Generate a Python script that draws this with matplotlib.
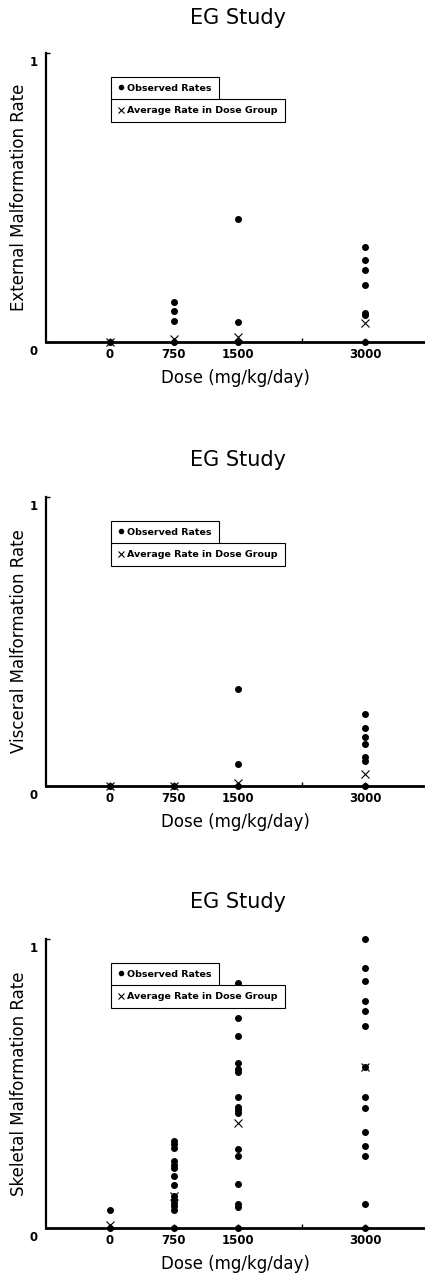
import matplotlib
matplotlib.use("Agg")
import matplotlib.pyplot as plt
import matplotlib.transforms as mtransforms
from matplotlib.lines import Line2D

plt.rcParams['font.family'] = ['DejaVu Sans']

dose_groups = [0, 750, 1500, 3000]
dose_ticks = [0, 750, 1500, 2250, 3000]
dose_tick_labels = ['0', '750', '1500', '', '3000']

# Observed rates per dose group
external_obs = {
    0: [0.0],
    750: [0.139, 0.108, 0.074, 0.0],
    1500: [0.426, 0.068, 0.0],
    3000: [0.330, 0.284, 0.249, 0.197, 0.099, 0.093, 0.0],
}
external_avg = [0.0, 0.009, 0.016, 0.067]

visceral_obs = {
    0: [0.0],
    750: [0.0],
    1500: [0.335, 0.077, 0.0],
    3000: [0.250, 0.202, 0.168, 0.144, 0.100, 0.087, 0.0],
}
visceral_avg = [0.0, 0.0, 0.012, 0.040]

skeletal_obs = {
    0: [0.063, 0.0],
    750: [0.300, 0.289, 0.277, 0.231, 0.219, 0.208, 0.179, 0.150, 0.110,
          0.098, 0.087, 0.075, 0.064, 0.0],
    1500: [0.847, 0.726, 0.666, 0.572, 0.551, 0.540, 0.453, 0.417, 0.407,
           0.398, 0.272, 0.250, 0.153, 0.084, 0.072, 0.0],
    3000: [1.0, 0.901, 0.856, 0.786, 0.751, 0.700, 0.557, 0.453, 0.416,
           0.331, 0.284, 0.250, 0.084, 0.0],
}
skeletal_avg = [0.009, 0.110, 0.364, 0.557]

panels = [
    ("External Malformation Rate", external_obs, external_avg),
    ("Visceral Malformation Rate", visceral_obs, visceral_avg),
    ("Skeletal Malformation Rate", skeletal_obs, skeletal_avg),
]

W, H = 425, 1275
fig = plt.figure(figsize=(W / 100, H / 100), dpi=100)

axes_px = [(53, 342), (497, 786), (939, 1228)]
title_px = [18, 460, 902]
left_px, right_px = 46, 425

for (ylabel, obs, avg), (top, bot), ty in zip(panels, axes_px, title_px):
    ax = fig.add_axes([left_px / W, 1 - bot / H, (right_px - left_px) / W, (bot - top) / H])
    for d in dose_groups:
        vals = obs[d]
        ax.plot([d] * len(vals), vals, 'o', color='black', markersize=4.0,
                linestyle='none', clip_on=False, zorder=3)
    ax.plot(dose_groups, avg, 'x', color='black', markersize=6,
            markeredgewidth=0.8, linestyle='none', clip_on=False, zorder=4)
    ax.set_xlim(-750, 3700)
    ax.set_ylim(0, 1)
    for s in ['top', 'right']:
        ax.spines[s].set_visible(False)
    ax.spines['left'].set_linewidth(1.6)
    ax.spines['bottom'].set_linewidth(2.0)
    ax.set_xticks(dose_ticks)
    ax.set_xticklabels(dose_tick_labels, fontweight='bold', fontsize=8.5)
    ax.set_yticks([0, 1])
    ax.set_yticklabels(['0', '1'], fontweight='bold', fontsize=8.5)
    ax.tick_params(axis='both', direction='in', length=3, width=1)
    ax.tick_params(axis='x', pad=4)
    ax.tick_params(axis='y', pad=6)
    off = mtransforms.ScaledTranslation(0, -3 / 100, fig.dpi_scale_trans)
    for lbl in ax.get_yticklabels():
        lbl.set_verticalalignment('top')
        lbl.set_transform(lbl.get_transform() + off)
    ax.set_ylabel(ylabel, fontsize=12, labelpad=1)
    ax.set_xlabel("Dose (mg/kg/day)", fontsize=12, labelpad=6)
    fig.text(238 / W, 1 - ty / H, "EG Study", fontsize=15, ha='center', va='center')

    h1 = Line2D([], [], marker='o', color='black', linestyle='none', markersize=3)
    h2 = Line2D([], [], marker='x', color='black', linestyle='none', markersize=5,
                markeredgewidth=0.8)
    legprops = dict(loc='upper left', frameon=True, fancybox=False,
                    edgecolor='black', framealpha=1, borderpad=0.75,
                    handlelength=0.6, handletextpad=0.4, borderaxespad=0,
                    prop={'weight': 'bold', 'size': 6.8})
    leg1 = ax.legend([h1], ["Observed Rates"], bbox_to_anchor=(0.171, 0.918), **legprops)
    leg1.get_frame().set_linewidth(0.8)
    ax.add_artist(leg1)
    leg2 = ax.legend([h2], ["Average Rate in Dose Group"], bbox_to_anchor=(0.171, 0.840),
                     **legprops)
    leg2.get_frame().set_linewidth(0.8)

fig.savefig("out.png", dpi=100)
